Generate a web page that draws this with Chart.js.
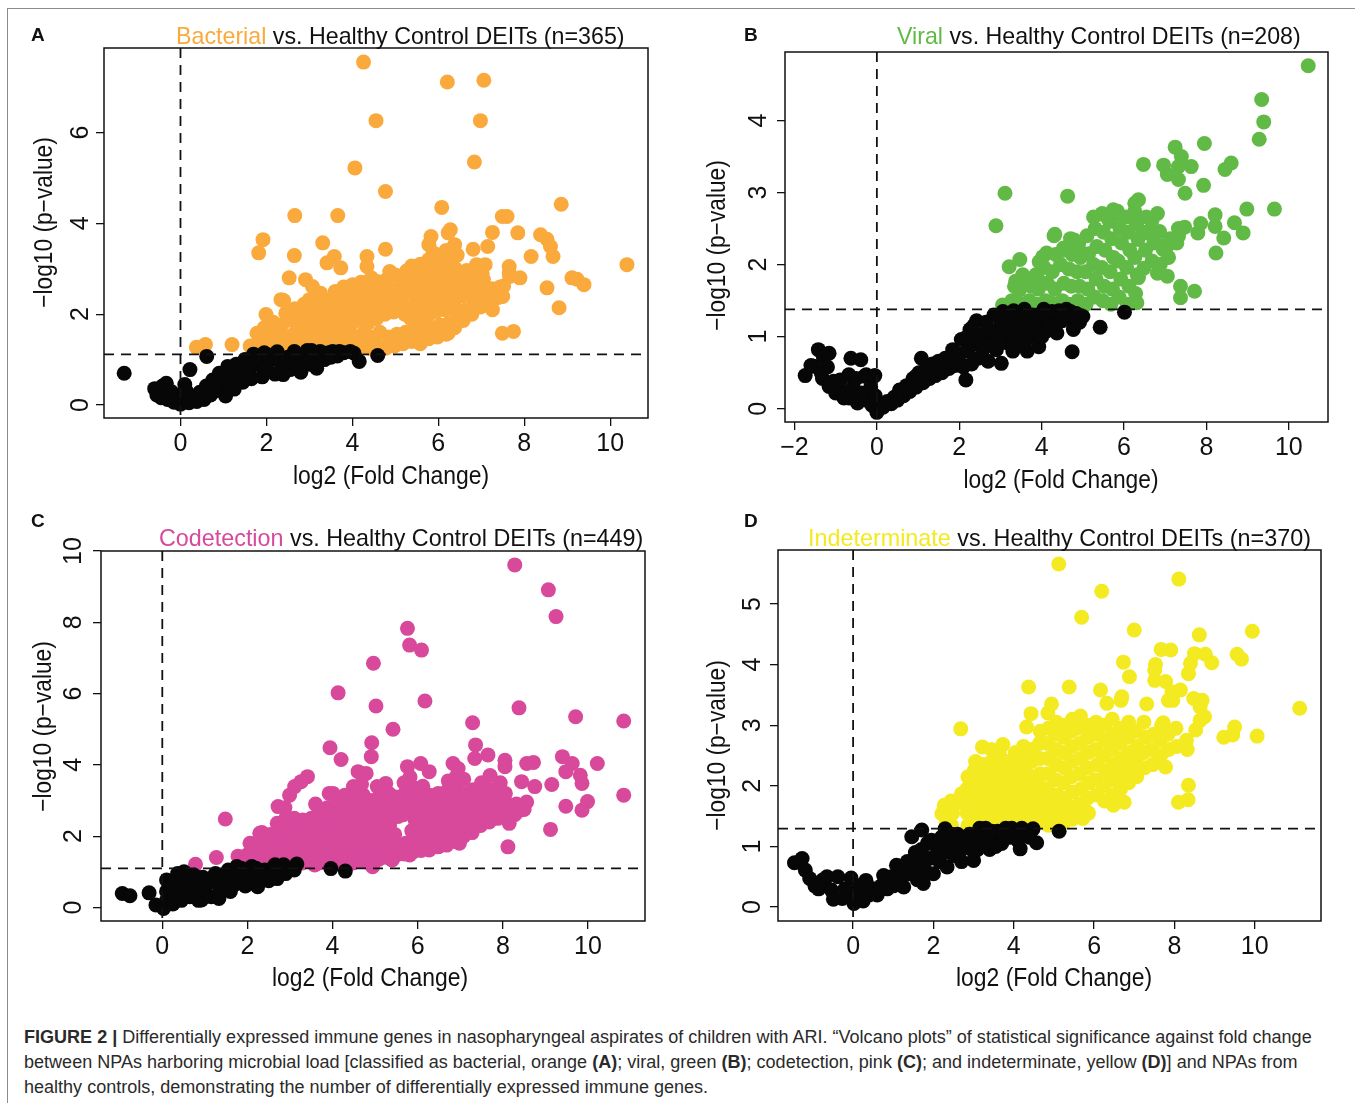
<!DOCTYPE html>
<html lang="en">
<head>
<meta charset="UTF-8">
<title>Figure 2 - volcano plots</title>
<script src="https://cdn.jsdelivr.net/npm/chart.js"></script>
<style>
  body { margin:0; background:#fff; font-family:'Liberation Sans', Arial, sans-serif; }
  #page { position:relative; width:1355px; height:1103px; overflow:hidden; background:#fff; }
  .frame { position:absolute; left:7px; top:8px; width:1400px; height:1200px;
           border-top:1.5px solid #8c8c8c; border-left:1.5px solid #8c8c8c; }
  canvas { position:absolute; }
  .txt { position:absolute; white-space:nowrap; line-height:1; color:#111; transform-origin:center center; }
</style>
</head>
<body>
<div id="page">
  <div class="frame"></div>
  <canvas id="cA"></canvas>
  <canvas id="cB"></canvas>
  <canvas id="cC"></canvas>
  <canvas id="cD"></canvas>
</div>
<script>
// ---- data: [log2 fold change, -log10 p] ----
const xTicksA = [0, 2, 4, 6, 8, 10];
const yTicksA = [0, 2, 4, 6];
const xTicksB = [-2, 0, 2, 4, 6, 8, 10];
const yTicksB = [0, 1, 2, 3, 4];
const xTicksC = [0, 2, 4, 6, 8, 10];
const yTicksC = [0, 2, 4, 6, 8, 10];
const xTicksD = [0, 2, 4, 6, 8, 10];
const yTicksD = [0, 1, 2, 3, 4, 5];

const cutoffA = 1.115, cutoffB = 1.378, cutoffC = 1.094, cutoffD = 1.294;

// bacterial (A)
const bacterialNs = [
  [-1.31,0.70],[-0.6,0.36],[-0.55,0.22],[-0.45,0.16],[-0.42,0.42],[-0.33,0.48],[-0.3,0.12],[-0.22,0.3],
  [-0.15,0.06],[-0.08,0.22],[0.0,0.02],[0.04,0.14],[0.1,0.45],[0.14,0.3],[0.2,0.05],[0.3,0.18],[0.38,0.08],
  [0.22,0.78],[0.61,1.07],[0.45,0.28],[0.55,0.12],[0.6,0.42],[0.7,0.22],[0.75,0.55],[0.85,0.32],[0.9,0.7],
  [1.0,0.45],[1.05,0.2],[1.1,0.85],[1.15,0.6],[1.25,0.35],[1.3,0.9],[1.35,0.7],[1.45,0.5],[1.5,1.0],
  [1.6,0.75],[1.65,0.58],[1.7,1.12],[1.8,0.9],[1.9,0.62],[1.95,1.15],[2.0,0.8],[2.1,1.0],[2.2,0.68],
  [2.25,1.17],[2.35,0.88],[2.39,0.67],[2.5,1.05],[2.55,0.78],[2.65,1.18],[2.7,0.9],[2.8,0.72],[2.85,1.08],
  [2.95,1.2],[3.0,0.9],[3.1,1.1],[3.17,0.81],[3.25,1.18],[3.35,1.0],[3.45,1.15],[3.54,1.18],[3.65,1.08],
  [3.8,1.15],[4.04,1.14],[4.16,0.96],[4.59,1.09],
  [1.2,0.75],[1.4,0.85],[1.55,0.65],[1.75,1.0],[2.05,1.1],[2.3,1.05],[2.45,0.95],[2.6,1.1],[2.9,0.95],
  [3.05,1.2],[3.3,1.1],[3.5,1.05],[3.7,1.18],[3.95,1.18],[0.95,0.55],[0.8,0.42]
];
const bacterialSig = [
  [4.26,7.55],[6.21,7.11],[7.06,7.15],[4.55,6.26],[6.98,6.26],[6.84,5.35],[4.06,5.22],[4.77,4.70],[6.08,4.35],
  [8.86,4.42],[2.66,4.17],[3.66,4.17],[7.49,4.15],[7.6,4.15],[6.28,3.86],[6.23,3.79],[7.26,3.80],[7.85,3.79],
  [8.38,3.75],[8.53,3.65],[8.61,3.49],[8.67,3.27],[1.92,3.64],[1.82,3.35],[3.31,3.57],[5.83,3.71],[5.78,3.53],
  [5.88,3.35],[6.38,3.53],[6.33,3.35],[2.65,3.29],[4.34,3.27],[4.77,3.43],[6.81,3.43],[7.15,3.49],[3.58,3.27],
  [3.41,3.13],[3.73,3.02],[8.16,3.27],[10.39,3.09],[7.09,3.09],[6.89,3.09],[7.65,3.05],[7.65,2.91],[7.9,2.80],
  [2.53,2.80],[2.91,2.76],[3.07,2.61],[9.11,2.80],[9.23,2.77],[9.39,2.65],[8.53,2.58],[4.01,2.65],[4.87,2.94],
  [2.34,2.32],[8.81,2.14],[7.26,2.10],[1.99,1.99],[1.20,1.33],[0.37,1.27],[0.58,1.33],[1.78,1.58],[7.49,1.58],
  [7.75,1.62],[6.23,1.58],[4.34,3.05],[4.57,2.72],[5.3,2.87],[5.58,2.98],[5.77,3.12],[5.85,3.23],[6.82,2.98],
  [7.5,2.39],[7.52,2.62],[7.66,2.83],[7.05,2.76],[7.13,2.46],
  [1.62,1.3],[1.78,1.25],[1.84,1.45],[1.98,1.22],[2.04,1.47],[1.95,1.7],[2.18,1.3],[2.24,1.56],[2.16,1.82],
  [2.38,1.25],[2.44,1.5],[2.36,1.76],[2.45,2.02],[2.4,2.3],[2.58,1.3],[2.64,1.56],[2.6,1.86],[2.66,2.12],
  [2.78,1.24],[2.84,1.5],[2.76,1.76],[2.82,2.0],[2.88,2.22],[3.0,1.3],[3.04,1.6],[2.98,1.86],[3.06,2.12],
  [3.0,2.32],[3.18,1.25],[3.22,1.5],[3.16,1.76],[3.24,2.0],[3.2,2.26],[3.26,2.46],[3.38,1.3],[3.44,1.56],
  [3.36,1.82],[3.42,2.06],[3.46,2.3],[3.58,1.25],[3.64,1.5],[3.56,1.76],[3.62,2.0],[3.66,2.24],[3.6,2.5],
  [3.78,1.3],[3.84,1.56],[3.76,1.8],[3.82,2.1],[3.86,2.36],[3.8,2.6],[3.98,1.25],[4.04,1.5],[3.96,1.76],
  [4.02,2.0],[4.06,2.26],[4.0,2.5],[4.18,1.3],[4.24,1.56],[4.16,1.86],[4.22,2.1],[4.26,2.4],[4.2,2.7],
  [4.38,1.25],[4.44,1.5],[4.36,1.8],[4.42,2.06],[4.46,2.3],[4.4,2.56],[4.44,2.8],[4.58,1.3],[4.64,1.6],
  [4.56,1.9],[4.62,2.16],[4.66,2.45],[4.6,2.7],[4.78,1.25],[4.84,1.5],[4.76,2.0],[4.82,2.25],[4.86,2.5],
  [4.8,2.76],[4.98,1.3],[5.04,1.56],[4.96,2.05],[5.02,2.3],[5.06,2.56],[5.0,2.86],[5.18,1.35],[5.24,1.6],
  [5.22,2.0],[5.16,2.25],[5.24,2.5],[5.2,2.76],[5.26,2.95],[5.38,1.4],[5.44,1.66],[5.36,1.9],[5.42,2.16],
  [5.46,2.4],[5.4,2.66],[5.44,2.9],[5.38,3.06],[5.58,1.35],[5.64,1.6],[5.56,1.86],[5.62,2.1],[5.66,2.36],
  [5.6,2.6],[5.64,2.86],[5.58,3.1],[5.78,1.46],[5.84,1.7],[5.76,1.96],[5.82,2.2],[5.86,2.5],[5.8,2.76],
  [5.84,3.0],[5.78,3.2],[5.98,1.5],[6.04,1.76],[5.96,2.06],[6.02,2.3],[6.06,2.56],[6.0,2.8],[6.04,3.06],
  [5.98,3.3],[6.18,1.56],[6.24,1.8],[6.16,2.1],[6.22,2.4],[6.26,2.66],[6.2,2.9],[6.24,3.16],[6.18,3.4],
  [6.38,1.7],[6.44,2.0],[6.36,2.26],[6.42,2.5],[6.46,2.76],[6.4,3.0],[6.44,3.3],[6.58,1.86],[6.64,2.1],
  [6.56,2.4],[6.62,2.7],[6.66,2.96],[6.78,2.0],[6.84,2.26],[6.76,2.5],[6.82,2.8],[6.98,2.16],[7.04,2.4],
  [6.96,2.66],[7.02,2.9],[7.18,2.3],[7.24,2.56],[7.38,2.36],[7.44,2.6]
];

// viral (B)
const viralNs = [
  [-1.74,0.46],[-1.6,0.6],[-1.53,0.59],[-1.42,0.82],[-1.3,0.72],[-1.16,0.77],[-1.35,0.5],[-1.32,0.42],
  [-1.2,0.58],[-1.16,0.31],[-1.05,0.38],[-1.0,0.22],[-0.89,0.26],[-0.89,0.40],[-0.8,0.15],[-0.68,0.15],
  [-0.68,0.47],[-0.63,0.70],[-0.58,0.3],[-0.5,0.42],[-0.47,0.08],[-0.39,0.68],[-0.38,0.22],[-0.3,0.45],
  [-0.26,0.47],[-0.25,0.12],[-0.15,0.3],[-0.12,0.05],[-0.05,0.46],[-0.04,0.18],[0.0,-0.05],
  [0.08,0.06],[0.15,0.02],[0.25,0.1],[0.35,0.07],[0.42,0.16],[0.5,0.12],[0.55,0.26],[0.65,0.18],[0.72,0.32],
  [0.8,0.24],[0.88,0.42],[0.95,0.3],[1.02,0.5],[1.08,0.70],[1.12,0.36],[1.2,0.56],[1.28,0.42],[1.35,0.62],
  [1.42,0.46],[1.5,0.66],[1.58,0.5],[1.66,0.7],[1.75,0.56],[1.84,0.82],[1.9,0.6],[1.98,0.76],[2.05,0.96],
  [2.1,0.58],[2.16,0.40],[2.2,0.8],[2.26,1.1],[2.3,0.62],[2.36,0.9],[2.42,1.22],[2.46,0.7],[2.52,1.02],
  [2.6,0.84],[2.65,1.2],[2.7,0.66],[2.76,1.0],[2.84,1.3],[2.9,0.82],[2.96,1.12],[3.02,0.63],[3.06,1.35],
  [3.12,0.92],[3.18,1.18],[3.26,1.0],[3.32,1.36],[3.4,0.88],[3.46,1.24],[3.52,1.05],[3.58,1.38],[3.65,0.80],
  [3.7,1.12],[3.78,1.3],[3.86,1.0],[3.93,0.86],[3.98,1.2],[4.05,1.38],[4.12,1.08],[4.2,1.28],[4.3,1.14],
  [4.37,1.05],[4.42,1.36],[4.5,1.22],[4.6,1.38],[4.66,1.26],[4.74,0.79],[4.77,1.10],[4.84,1.32],[4.92,1.2],
  [5.0,1.28],[5.42,1.13],[6.01,1.34],
  [2.2,1.0],[2.35,1.15],[2.55,0.9],[2.7,1.1],[2.8,0.9],[3.0,1.0],[3.1,1.25],[3.25,1.15],[3.4,1.1],
  [3.55,1.2],[3.62,0.95],[3.8,1.15],[3.9,1.3],[4.1,1.25],[4.25,1.35],[4.5,1.3],[4.7,1.35],[1.6,0.6],
  [1.8,0.7],[2.0,0.65],[1.3,0.5],[0.95,0.45],[3.3,0.8],[3.45,0.95],[3.2,1.3],[2.95,1.28],[4.0,1.0],[4.2,1.15]
];
const viralSig = [
  [10.47,4.76],[9.34,4.29],[9.39,3.98],[9.28,3.74],[7.95,3.68],[7.24,3.63],[7.39,3.50],[7.63,3.36],[7.32,3.36],
  [7.05,3.25],[6.47,3.39],[6.96,3.38],[7.32,3.18],[7.48,2.99],[7.93,3.10],[8.45,3.32],[8.6,3.41],[3.11,2.99],
  [4.63,2.95],[2.89,2.54],[6.35,2.90],[6.26,2.74],[8.98,2.77],[9.65,2.77],[8.21,2.69],[8.21,2.53],[7.86,2.57],
  [7.79,2.44],[8.68,2.58],[8.89,2.44],[8.42,2.37],[8.23,2.16],[7.47,2.52],[7.32,2.39],[7.11,2.30],[6.95,2.21],
  [6.81,2.71],[6.68,2.62],[6.58,2.44],[4.32,2.42],[4.79,2.34],[4.89,2.23],[4.53,2.23],[5.47,2.71],[5.84,2.74],
  [5.63,2.62],[3.21,1.97],[3.47,2.07],[4.03,2.11],[3.37,1.77],[3.68,1.74],[3.95,1.77],[7.37,1.70],[7.37,1.54],
  [7.71,1.63],[6.81,1.88],[7.05,1.84],[6.35,1.82],[3.05,1.44],[7.36,2.48],[7.04,2.25],[6.31,1.47],
  [3.28,1.5],[3.34,1.7],[3.5,1.45],[3.46,1.65],[3.54,1.86],[3.7,1.5],[3.74,1.7],[3.88,1.45],[3.92,1.66],
  [3.86,1.86],[3.94,2.04],[4.1,1.5],[4.14,1.74],[4.06,1.96],[4.12,2.16],[4.28,1.46],[4.32,1.66],[4.26,1.9],
  [4.34,2.14],[4.3,2.4],[4.5,1.5],[4.54,1.74],[4.46,2.0],[4.52,2.2],[4.68,1.45],[4.72,1.7],[4.66,1.94],
  [4.74,2.14],[4.7,2.36],[4.88,1.5],[4.92,1.7],[4.86,1.9],[4.94,2.1],[4.9,2.3],[5.08,1.45],[5.12,1.66],
  [5.06,1.9],[5.14,2.15],[5.1,2.4],[5.28,1.55],[5.32,1.8],[5.26,2.0],[5.34,2.25],[5.3,2.5],[5.26,2.66],
  [5.48,1.5],[5.52,1.7],[5.46,1.96],[5.54,2.2],[5.5,2.45],[5.46,2.7],[5.68,1.45],[5.72,1.66],[5.66,1.9],
  [5.74,2.1],[5.7,2.36],[5.66,2.6],[5.74,2.76],[5.88,1.55],[5.92,1.8],[5.86,2.05],[5.94,2.3],[5.9,2.5],
  [5.86,2.7],[6.08,1.45],[6.12,1.7],[6.06,1.96],[6.14,2.2],[6.1,2.45],[6.06,2.66],[6.28,1.6],[6.32,1.86],
  [6.26,2.1],[6.34,2.35],[6.3,2.56],[6.26,2.85],[6.48,1.95],[6.52,2.2],[6.46,2.45],[6.54,2.66],[6.68,2.05],
  [6.72,2.3],[6.66,2.5],[6.88,2.0],[6.92,2.26],[6.86,2.46],[7.08,2.1],[7.12,2.36],[7.28,2.3],[7.32,2.5]
];

// codetection (C)
const codetectNs = [
  [-0.94,0.39],[-0.76,0.33],[-0.31,0.41],[-0.15,0.07],[0.03,-0.03],[0.1,0.2],[0.1,0.45],[0.10,0.77],
  [0.2,0.6],[0.25,0.1],[0.3,0.35],[0.36,0.95],[0.45,0.2],[0.5,0.5],[0.51,1.0],[0.6,0.75],[0.65,0.3],
  [0.8,0.55],[0.85,0.2],[0.92,0.21],[0.95,0.85],[1.0,0.45],[1.1,0.7],[1.15,0.3],[1.25,0.95],[1.33,0.25],
  [1.35,0.55],[1.45,0.8],[1.55,1.05],[1.6,0.45],[1.68,0.63],[1.8,0.85],[1.85,1.1],[1.95,0.6],[2.05,0.9],
  [2.1,1.15],[2.24,0.58],[2.3,0.8],[2.4,1.05],[2.5,0.75],[2.6,0.95],[2.70,0.81],[2.75,1.15],[2.9,0.95],
  [3.0,1.1],[3.16,1.22],[3.96,1.09],[4.30,1.02],
  [0.3,0.7],[0.45,0.85],[0.7,0.55],[0.75,0.9],[1.0,0.7],[1.2,0.85],[1.4,0.65],[1.6,0.9],[1.75,1.15],
  [2.0,1.05],[2.2,1.1],[2.5,1.05],[2.65,1.2],[2.85,1.2],[3.1,1.05],[1.9,0.75],[2.4,0.9]
];
const codetectSig = [
  [8.28,9.61],[9.07,8.91],[9.25,8.16],[5.76,7.83],[5.81,7.36],[6.09,7.22],[4.96,6.85],[4.13,6.02],[6.17,5.79],
  [5.02,5.65],[8.38,5.60],[9.71,5.35],[10.84,5.23],[7.29,5.18],[5.42,5.00],[4.92,4.62],[3.94,4.48],[7.36,4.56],
  [4.91,4.23],[4.20,4.15],[7.65,4.28],[7.34,4.18],[8.05,4.13],[8.05,3.95],[8.56,4.04],[8.72,4.07],[9.40,4.23],
  [9.63,4.04],[9.48,3.81],[10.22,4.04],[9.82,3.71],[9.86,3.48],[9.15,3.45],[8.75,3.39],[8.44,3.53],[10.84,3.15],
  [9.99,2.97],[9.86,2.73],[9.48,2.84],[9.12,2.19],[8.12,1.70],[8.15,2.36],[1.48,2.48],[4.60,3.81],[4.79,3.76],
  [5.76,3.95],[6.07,4.04],[6.27,3.81],[4.49,3.39],[5.25,3.48],[5.05,3.39],[3.41,3.67],[3.26,3.53],[3.11,3.39],
  [2.99,3.15],[3.92,3.20],[3.60,2.90],[2.72,2.83],[2.70,2.36],[2.29,2.08],[1.27,1.40],[0.78,1.21],[6.98,1.80],
  [5.81,1.47],[6.27,1.61],[5.40,1.33],[4.94,1.14],[3.58,1.19],[1.78,1.44],[1.99,1.47],[6.83,4.04],[6.95,3.9],
  [4.29,3.15],[4.01,3.2],[5.82,3.66],[8.56,2.96],[8.4,2.73],[8.17,2.54],
  [1.9,1.25],[2.08,1.2],[2.12,1.5],[2.06,1.8],[2.28,1.25],[2.32,1.55],[2.26,1.85],[2.34,2.1],[2.48,1.2],
  [2.52,1.5],[2.46,1.8],[2.54,2.05],[2.68,1.3],[2.72,1.6],[2.66,1.9],[2.74,2.2],[2.88,1.25],[2.92,1.55],
  [2.86,1.85],[2.94,2.15],[2.9,2.5],[2.88,2.8],[3.08,1.3],[3.12,1.6],[3.06,1.9],[3.14,2.2],[3.1,2.5],
  [3.28,1.25],[3.32,1.55],[3.26,1.85],[3.34,2.15],[3.3,2.45],[3.48,1.3],[3.52,1.6],[3.46,1.9],[3.54,2.2],
  [3.5,2.5],[3.68,1.25],[3.72,1.55],[3.66,1.85],[3.74,2.15],[3.7,2.45],[3.68,2.75],[3.88,1.3],[3.92,1.6],
  [3.86,1.9],[3.94,2.2],[3.9,2.5],[3.88,2.8],[4.08,1.25],[4.12,1.55],[4.06,1.85],[4.14,2.15],[4.1,2.45],
  [4.08,2.75],[4.12,3.0],[4.28,1.3],[4.32,1.6],[4.26,1.9],[4.34,2.2],[4.3,2.5],[4.28,2.8],[4.32,3.1],
  [4.48,1.25],[4.52,1.55],[4.46,1.85],[4.54,2.15],[4.5,2.45],[4.48,2.75],[4.52,3.05],[4.68,1.3],[4.72,1.6],
  [4.66,1.9],[4.74,2.2],[4.7,2.5],[4.68,2.8],[4.72,3.15],[4.68,3.45],[4.88,1.25],[4.92,1.55],[4.86,1.85],
  [4.94,2.15],[4.9,2.45],[4.88,2.75],[4.92,3.0],[5.08,1.35],[5.12,1.65],[5.06,1.95],[5.14,2.25],[5.1,2.55],
  [5.08,2.85],[5.12,3.15],[5.28,1.4],[5.32,1.7],[5.26,2.0],[5.34,2.3],[5.3,2.6],[5.28,2.9],[5.32,3.2],
  [5.48,1.45],[5.52,1.75],[5.46,2.05],[5.54,2.55],[5.5,2.85],[5.48,3.1],[5.68,1.5],[5.72,1.8],[5.66,2.6],
  [5.74,2.9],[5.7,3.2],[5.68,3.5],[5.88,1.55],[5.92,1.85],[5.86,2.15],[5.94,2.45],[5.9,2.75],[5.88,3.05],
  [5.92,3.35],[6.08,1.6],[6.12,1.9],[6.06,2.2],[6.14,2.5],[6.1,2.8],[6.08,3.1],[6.12,3.4],[6.28,1.65],
  [6.32,1.95],[6.26,2.25],[6.34,2.55],[6.3,2.85],[6.28,3.15],[6.48,1.7],[6.52,2.0],[6.46,2.3],[6.54,2.6],
  [6.5,2.9],[6.48,3.2],[6.68,1.75],[6.72,2.05],[6.66,2.35],[6.74,2.65],[6.7,2.95],[6.68,3.25],[6.72,3.55],
  [6.88,1.85],[6.92,2.15],[6.86,2.45],[6.94,2.75],[6.9,3.05],[6.88,3.35],[6.92,3.7],[7.08,2.0],[7.12,2.3],
  [7.06,2.6],[7.14,2.9],[7.1,3.2],[7.08,3.6],[7.28,2.1],[7.32,2.4],[7.26,2.7],[7.34,3.0],[7.3,3.3],
  [7.48,2.3],[7.52,2.6],[7.46,2.9],[7.54,3.2],[7.5,3.5],[7.68,2.4],[7.72,2.7],[7.66,3.0],[7.74,3.3],
  [7.7,3.7],[7.88,2.5],[7.92,2.8],[7.86,3.1],[7.94,3.5],[8.08,2.6],[8.12,2.9],[8.06,3.2],[8.28,2.6],
  [8.32,2.9],[8.5,2.75]
];

// indeterminate (D)
const indetermNs = [
  [-1.46,0.73],[-1.27,0.80],[-1.19,0.61],[-1.08,0.47],[-0.95,0.35],[-0.86,0.30],[-0.75,0.45],[-0.65,0.50],
  [-0.54,0.28],[-0.49,0.13],[-0.38,0.50],[-0.27,0.14],[-0.2,0.3],[-0.05,0.48],[-0.1,0.2],[0.02,0.06],
  [0.1,0.15],[0.15,0.35],[0.25,0.1],[0.32,0.44],[0.4,0.2],[0.5,0.3],[0.6,0.2],[0.76,0.52],[0.7,0.35],
  [0.85,0.3],[1.0,0.35],[1.08,0.69],[1.15,0.45],[1.26,0.33],[1.35,0.75],[1.46,1.16],[1.5,0.6],[1.55,0.9],
  [1.6,0.45],[1.71,1.27],[1.75,0.39],[1.8,0.6],[1.85,1.05],[1.9,0.8],[2.0,0.55],[2.1,0.95],[2.15,0.75],
  [2.29,1.29],[2.34,0.66],[2.4,1.05],[2.5,0.85],[2.6,1.2],[2.7,0.75],[2.8,1.0],[2.9,1.2],[3.0,0.77],
  [3.1,0.95],[3.2,1.15],[3.3,1.3],[3.4,0.95],[3.5,1.1],[3.6,1.25],[3.7,1.05],[3.8,1.3],[3.9,1.15],
  [4.0,1.25],[4.1,1.1],[4.16,0.96],[4.3,1.2],[4.48,1.29],[4.57,1.06],[5.13,1.25],
  [1.4,0.55],[1.6,0.75],[1.7,0.95],[1.95,1.1],[2.2,1.15],[2.45,1.2],[2.55,1.0],[2.75,1.15],[3.05,1.1],
  [3.15,1.3],[3.45,1.25],[3.55,1.0],[3.75,1.2],[3.95,1.3],[4.2,1.3],[4.4,1.15],[2.25,0.9],[2.65,0.9],
  [2.95,0.95],[1.2,0.55],[0.95,0.5],[3.3,1.05]
];
const indetermSig = [
  [5.12,5.66],[8.11,5.41],[6.19,5.21],[5.69,4.78],[7.00,4.57],[9.94,4.55],[8.62,4.49],[7.67,4.25],[7.91,4.24],
  [8.50,4.18],[8.77,4.17],[8.40,4.02],[9.56,4.17],[9.67,4.09],[8.93,4.03],[6.73,4.04],[7.53,4.00],[7.51,3.91],
  [8.35,3.85],[6.88,3.80],[7.51,3.74],[7.78,3.72],[4.37,3.63],[5.38,3.63],[6.16,3.58],[7.94,3.55],[8.15,3.58],
  [6.69,3.47],[6.67,3.41],[6.32,3.36],[7.85,3.41],[7.96,3.41],[8.48,3.44],[8.69,3.41],[8.64,3.30],[8.75,3.14],
  [8.64,3.08],[4.94,3.35],[7.31,3.35],[11.12,3.28],[4.43,3.19],[4.32,2.97],[2.68,2.94],[9.50,2.97],[9.23,2.80],
  [9.45,2.84],[10.06,2.82],[7.72,3.04],[3.22,2.64],[3.73,2.68],[8.32,2.60],[8.53,2.92],[7.78,2.31],[8.35,2.01],
  [8.10,1.73],[8.34,1.77],[6.75,1.73],[6.48,1.68],[6.78,2.06],[7.09,2.29],[3.02,2.26],[3.02,2.04],[2.70,1.87],
  [2.65,1.73],[2.27,1.68],[2.21,1.54],[2.32,1.40],[5.78,1.60],[5.72,1.46],
  [2.45,1.35],[2.48,1.55],[2.44,1.75],[2.86,1.35],[2.84,1.55],[2.88,1.75],[2.84,1.95],[2.86,2.15],
  [3.06,1.4],[3.04,1.6],[3.08,1.8],[3.04,2.0],[3.06,2.2],[3.05,2.4],[3.26,1.35],[3.24,1.55],[3.28,1.75],
  [3.24,1.95],[3.26,2.15],[3.25,2.35],[3.46,1.4],[3.44,1.6],[3.48,1.8],[3.44,2.0],[3.46,2.2],[3.45,2.4],
  [3.44,2.6],[3.66,1.35],[3.64,1.55],[3.68,1.75],[3.64,1.95],[3.66,2.15],[3.65,2.35],[3.64,2.55],
  [3.86,1.4],[3.84,1.6],[3.88,1.8],[3.84,2.0],[3.86,2.2],[3.85,2.4],[4.06,1.35],[4.04,1.55],[4.08,1.75],
  [4.04,1.95],[4.06,2.15],[4.05,2.35],[4.04,2.55],[4.26,1.45],[4.24,1.65],[4.28,1.85],[4.24,2.05],[4.26,2.25],
  [4.25,2.45],[4.24,2.65],[4.46,1.35],[4.44,1.55],[4.48,1.75],[4.44,1.95],[4.46,2.15],[4.45,2.4],[4.44,2.6],
  [4.66,1.4],[4.64,1.6],[4.68,1.8],[4.64,2.0],[4.66,2.2],[4.65,2.45],[4.64,2.7],[4.66,2.9],[4.86,1.35],
  [4.84,1.55],[4.88,1.75],[4.84,1.95],[4.86,2.2],[4.85,2.45],[4.84,2.7],[4.86,2.95],[4.85,3.2],[5.06,1.45],
  [5.04,1.65],[5.08,1.85],[5.04,2.1],[5.06,2.35],[5.05,2.6],[5.04,2.85],[5.06,3.05],[5.26,1.4],[5.24,1.6],
  [5.28,1.8],[5.24,2.05],[5.26,2.3],[5.25,2.55],[5.24,2.8],[5.26,3.0],[5.46,1.45],[5.44,1.65],[5.48,1.9],
  [5.44,2.15],[5.46,2.4],[5.45,2.65],[5.44,2.9],[5.46,3.1],[5.66,1.5],[5.64,1.7],[5.68,1.95],[5.64,2.2],
  [5.66,2.45],[5.65,2.7],[5.64,2.95],[5.66,3.15],[5.86,1.55],[5.84,1.8],[5.88,2.05],[5.84,2.3],[5.86,2.55],
  [5.85,2.8],[5.84,3.0],[6.06,1.85],[6.04,2.1],[6.08,2.35],[6.04,2.6],[6.06,2.85],[6.05,3.05],[6.26,1.75],
  [6.24,2.0],[6.28,2.25],[6.24,2.5],[6.26,2.75],[6.25,3.0],[6.46,1.85],[6.44,2.1],[6.48,2.35],[6.44,2.6],
  [6.46,2.85],[6.45,3.1],[6.66,1.95],[6.64,2.2],[6.68,2.45],[6.64,2.7],[6.66,2.95],[6.86,2.05],[6.84,2.3],
  [6.88,2.55],[6.84,2.8],[6.86,3.05],[7.06,2.15],[7.04,2.4],[7.08,2.65],[7.04,2.9],[7.26,2.3],[7.24,2.55],
  [7.28,2.8],[7.24,3.05],[7.46,2.35],[7.44,2.6],[7.48,2.85],[7.66,2.5],[7.64,2.75],[7.68,3.0],[7.86,2.6],
  [7.84,2.85],[8.06,2.65],[8.04,2.95],[8.3,2.75]
];

// ---- drawing ----
const BLACK = '#070707';
const ORANGE = '#FAAA3C', GREEN = '#62BA46', PINK = '#D8489B', YELLOW = '#F3EA21';
const NARROW = "'Liberation Sans Narrow', 'Liberation Sans', Arial, sans-serif";

const guides = {
  id: 'guides',
  afterDatasetsDraw(chart, args, opts) {
    const { ctx, chartArea: a, scales: { x, y } } = chart;
    ctx.save();
    ctx.strokeStyle = '#111';
    ctx.lineWidth = 1.8;
    ctx.setLineDash([10, 7]);
    ctx.beginPath();
    const yy = y.getPixelForValue(opts.cutoff);
    ctx.moveTo(a.left, yy); ctx.lineTo(a.right, yy);
    const xx = x.getPixelForValue(0);
    ctx.moveTo(xx, a.top); ctx.lineTo(xx, a.bottom);
    ctx.stroke();
    ctx.setLineDash([]);
    ctx.lineWidth = 1.5;
    ctx.strokeRect(a.left, a.top, a.right - a.left, a.bottom - a.top);
    ctx.restore();
  }
};

function pts(arr) { return arr.map(p => ({ x: p[0], y: p[1] })); }

function volcano(id, box, xr, yr, xt, yt, ns, sig, col, cutoff, yPad) {
  const cv = document.getElementById(id);
  const W = box.r - box.l + 80, H = box.b - box.t + 100;
  cv.width = W; cv.height = H;
  cv.style.left = (box.l - 70) + 'px';
  cv.style.top = (box.t - 40) + 'px';
  const tickFont = { family: NARROW, size: 25 };
  new Chart(cv.getContext('2d'), {
    type: 'scatter',
    data: {
      datasets: [
        { data: pts(ns), backgroundColor: BLACK, pointRadius: 7.5, borderWidth: 0, order: 0 },
        { data: pts(sig), backgroundColor: col, pointRadius: 7.5, borderWidth: 0, order: 1 }
      ]
    },
    options: {
      responsive: false, animation: false, events: [],
      layout: { padding: { left: 0, right: 10, top: 40, bottom: 0 } },
      plugins: { legend: { display: false }, tooltip: { enabled: false }, guides: { cutoff } },
      scales: {
        x: {
          type: 'linear', min: xr[0], max: xr[1],
          afterBuildTicks: s => { s.ticks = xt.map(v => ({ value: v })); },
          afterFit: s => { s.height = 60; },
          border: { display: false },
          grid: { drawOnChartArea: false, drawTicks: true, tickLength: 8, color: '#111', lineWidth: 1.3 },
          ticks: { font: tickFont, color: '#111', padding: 3, maxRotation: 0, autoSkip: false,
                   callback: v => v < 0 ? '\u2212' + Math.abs(v) : String(v) }
        },
        y: {
          type: 'linear', min: yr[0], max: yr[1],
          afterBuildTicks: s => { s.ticks = yt.map(v => ({ value: v })); },
          afterFit: s => { s.width = 70; },
          border: { display: false },
          grid: { drawOnChartArea: false, drawTicks: true, tickLength: 8, color: '#111', lineWidth: 1.3 },
          ticks: { font: tickFont, color: '#111', padding: yPad, minRotation: 90, maxRotation: 90,
                   crossAlign: 'center', autoSkip: false, callback: v => String(v) }
        }
      }
    },
    plugins: [guides]
  });
}

volcano('cA', { l: 104, t: 48, r: 648, b: 418 }, [-1.78, 10.88], [-0.286, 7.86],
        xTicksA, yTicksA, bacterialNs, bacterialSig, ORANGE, cutoffA, 8);
volcano('cB', { l: 785, t: 52, r: 1328, b: 422 }, [-2.23, 10.95], [-0.184, 4.95],
        xTicksB, yTicksB, viralNs, viralSig, GREEN, cutoffB, 11);
volcano('cC', { l: 101, t: 551, r: 645, b: 921 }, [-1.44, 11.34], [-0.38, 10.0],
        xTicksC, yTicksC, codetectNs, codetectSig, PINK, cutoffC, 5);
volcano('cD', { l: 778, t: 550, r: 1321, b: 921 }, [-1.87, 11.65], [-0.23, 5.89],
        xTicksD, yTicksD, indetermNs, indetermSig, YELLOW, cutoffD, 10);

// ---- text ----
const page = document.getElementById('page');
function put(html, o) {
  const d = document.createElement('div');
  d.className = 'txt';
  d.innerHTML = html;
  d.style.fontSize = o.size + 'px';
  if (o.bold) d.style.fontWeight = 'bold';
  if (o.color) d.style.color = o.color;
  page.appendChild(d);
  const w = d.offsetWidth, h = d.offsetHeight;
  const s = o.w ? o.w / w : 1;
  if (o.left !== undefined) {
    d.style.left = o.left + 'px';
    d.style.top = (o.cy - h / 2) + 'px';
    d.style.transformOrigin = 'left center';
    d.style.transform = 'scaleX(' + s + ')';
  } else {
    d.style.left = (o.cx - w / 2) + 'px';
    d.style.top = (o.cy - h / 2) + 'px';
    d.style.transform = (o.rot ? 'rotate(-90deg) ' : '') + 'scaleX(' + s + ')';
  }
}

const yLab = '\u2212log10 (p\u2212value)';
const xLab = 'log2 (Fold Change)';

put('A', { cx: 38, cy: 34, size: 19, bold: true });
put('B', { cx: 751, cy: 34, size: 19, bold: true });
put('C', { cx: 38, cy: 520, size: 19, bold: true });
put('D', { cx: 751, cy: 520, size: 19, bold: true });

put('<span style="color:' + ORANGE + '">Bacterial</span> vs. Healthy Control DEITs (n=365)', { left: 176, cy: 36, size: 24, w: 449 });
put('<span style="color:' + GREEN + '">Viral</span> vs. Healthy Control DEITs (n=208)', { left: 897, cy: 36, size: 24, w: 404 });
put('<span style="color:' + PINK + '">Codetection</span> vs. Healthy Control DEITs (n=449)', { left: 159, cy: 538, size: 24, w: 484 });
put('<span style="color:' + YELLOW + '">Indeterminate</span> vs. Healthy Control DEITs (n=370)', { left: 808, cy: 538, size: 24, w: 503 });

put(xLab, { cx: 391, cy: 475, size: 25, w: 196 });
put(xLab, { cx: 1061, cy: 479, size: 25, w: 195 });
put(xLab, { cx: 370, cy: 977, size: 25, w: 196 });
put(xLab, { cx: 1054, cy: 977, size: 25, w: 196 });

put(yLab, { cx: 44, cy: 222, size: 25, w: 171, rot: true });
put(yLab, { cx: 717, cy: 245, size: 25, w: 171, rot: true });
put(yLab, { cx: 43, cy: 726, size: 25, w: 171, rot: true });
put(yLab, { cx: 717, cy: 745, size: 25, w: 171, rot: true });

const capColor = '#2a2a2a';
put('<b>FIGURE 2 |</b> Differentially expressed immune genes in nasopharyngeal aspirates of children with ARI. \u201cVolcano plots\u201d of statistical significance against fold change',
    { left: 24, cy: 1038, size: 17.5, w: 1288, color: capColor });
put('between NPAs harboring microbial load [classified as bacterial, orange <b>(A)</b>; viral, green <b>(B)</b>; codetection, pink <b>(C)</b>; and indeterminate, yellow <b>(D)</b>] and NPAs from',
    { left: 24, cy: 1063, size: 17.5, w: 1274, color: capColor });
put('healthy controls, demonstrating the number of differentially expressed immune genes.',
    { left: 24, cy: 1088, size: 17.5, w: 684, color: capColor });
</script>
</body>
</html>
